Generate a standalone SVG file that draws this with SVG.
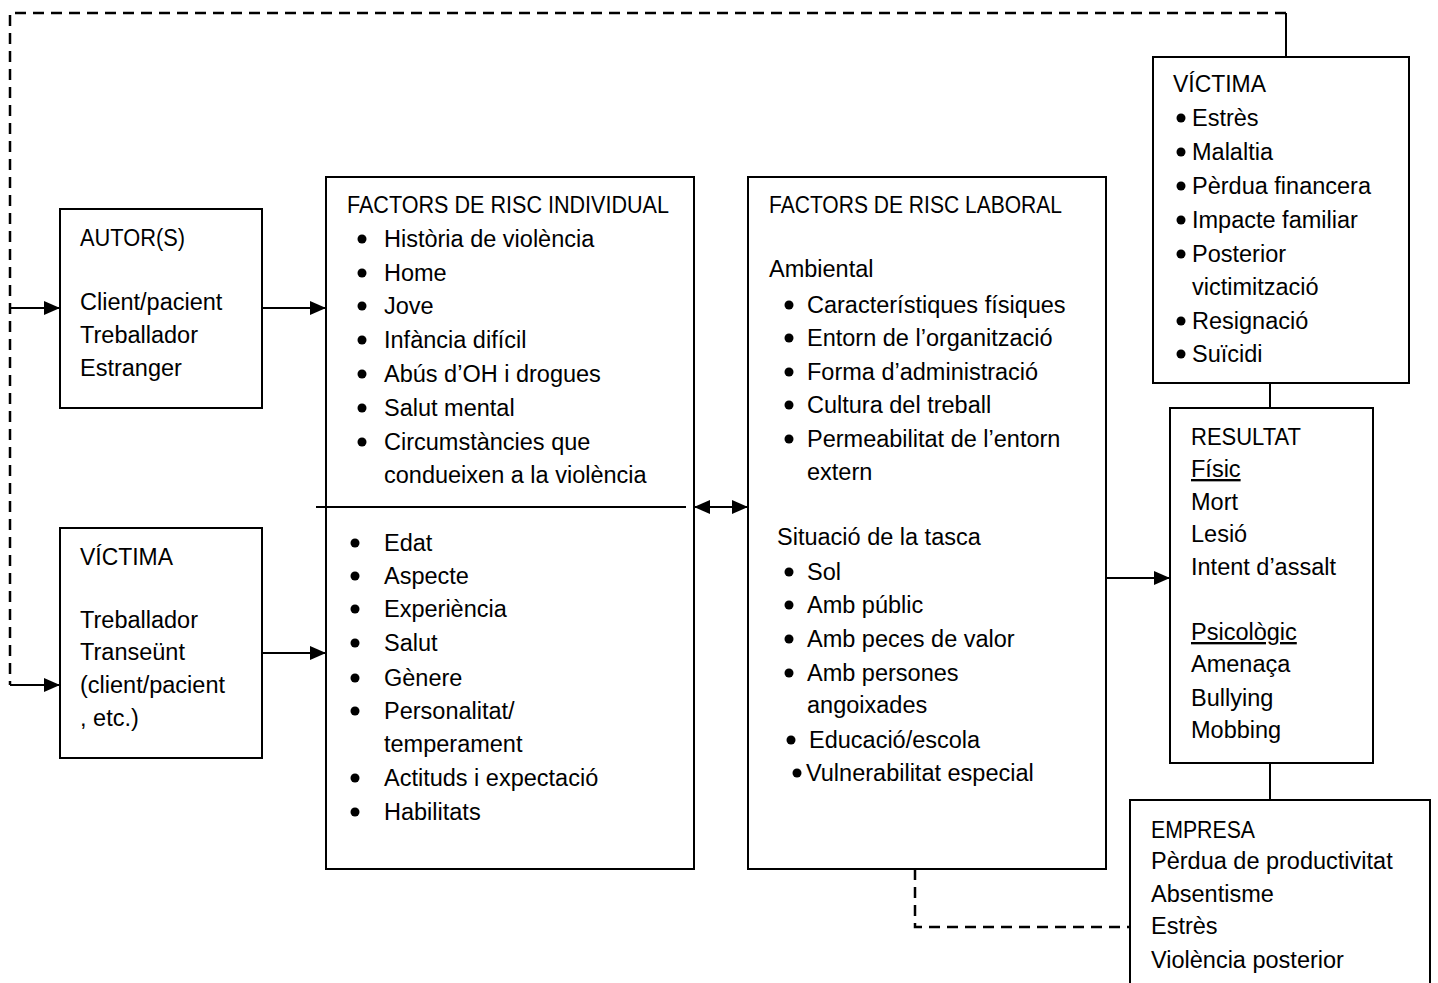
<svg xmlns="http://www.w3.org/2000/svg" width="1438" height="983" viewBox="0 0 1438 983">
<style>
text{font-family:"Liberation Sans",Arial,sans-serif;font-size:23.5px;fill:#000}
.box{fill:#fff;stroke:#000;stroke-width:2}
.ln{fill:none;stroke:#000;stroke-width:2}
.dash{fill:none;stroke:#000;stroke-width:2.5;stroke-dasharray:11,7}
.u{text-decoration:underline}
</style>
<defs>
<marker id="ah" viewBox="0 0 16 14" refX="16" refY="7" markerWidth="16" markerHeight="14" markerUnits="userSpaceOnUse" orient="auto-start-reverse">
<path d="M0,0 L16,7 L0,14 Z" fill="#000"/>
</marker>
<circle id="b" r="4.5" fill="#000"/>
</defs>
<rect width="1438" height="983" fill="#fff"/>
<g id="connectors">
<path class="dash" d="M1286,13 H10 V685"/>
<path class="ln" d="M1286,13 V57"/>
<path class="ln" d="M10,308 H60" marker-end="url(#ah)"/>
<path class="ln" d="M10,685 H60" marker-end="url(#ah)"/>
<path class="ln" d="M262,308 H326" marker-end="url(#ah)"/>
<path class="ln" d="M262,653 H326" marker-end="url(#ah)"/>
<path class="ln" d="M694,507 H748" marker-start="url(#ah)" marker-end="url(#ah)"/>
<path class="ln" d="M1106,578 H1170" marker-end="url(#ah)"/>
<path class="ln" d="M1270,383 V408"/>
<path class="ln" d="M1270,763 V800"/>
<path class="dash" d="M915,869 V927 H1130"/>
</g>
<g id="autor">
<rect class="box" x="60" y="209" width="202" height="199"/>
<text x="80" y="246" textLength="105" lengthAdjust="spacingAndGlyphs">AUTOR(S)</text>
<text x="80" y="310">Client/pacient</text>
<text x="80" y="343">Treballador</text>
<text x="80" y="376">Estranger</text>
</g>
<g id="victima-left">
<rect class="box" x="60" y="528" width="202" height="230"/>
<text x="80" y="565" textLength="93" lengthAdjust="spacingAndGlyphs">VÍCTIMA</text>
<text x="80" y="628">Treballador</text>
<text x="80" y="660">Transeünt</text>
<text x="80" y="693">(client/pacient</text>
<text x="80" y="726">, etc.)</text>
</g>
<g id="individual">
<rect class="box" x="326" y="177" width="368" height="692"/>
<line class="ln" x1="316" y1="507" x2="686" y2="507"/>
<text x="347" y="213" textLength="322" lengthAdjust="spacingAndGlyphs">FACTORS DE RISC INDIVIDUAL</text>
<use href="#b" x="362" y="239"/><text x="384" y="247">Història de violència</text>
<use href="#b" x="362" y="273"/><text x="384" y="281">Home</text>
<use href="#b" x="362" y="306"/><text x="384" y="314">Jove</text>
<use href="#b" x="362" y="340"/><text x="384" y="348">Infància difícil</text>
<use href="#b" x="362" y="374"/><text x="384" y="382">Abús d’OH i drogues</text>
<use href="#b" x="362" y="408"/><text x="384" y="416">Salut mental</text>
<use href="#b" x="362" y="442"/><text x="384" y="450">Circumstàncies que</text>
<text x="384" y="483">condueixen a la violència</text>
<use href="#b" x="355" y="543"/><text x="384" y="551">Edat</text>
<use href="#b" x="355" y="576"/><text x="384" y="584">Aspecte</text>
<use href="#b" x="355" y="609"/><text x="384" y="617">Experiència</text>
<use href="#b" x="355" y="643"/><text x="384" y="651">Salut</text>
<use href="#b" x="355" y="678"/><text x="384" y="686">Gènere</text>
<use href="#b" x="355" y="711"/><text x="384" y="719">Personalitat/</text>
<text x="384" y="752">temperament</text>
<use href="#b" x="355" y="778"/><text x="384" y="786">Actituds i expectació</text>
<use href="#b" x="355" y="812"/><text x="384" y="820">Habilitats</text>
</g>
<g id="laboral">
<rect class="box" x="748" y="177" width="358" height="692"/>
<text x="769" y="213" textLength="293" lengthAdjust="spacingAndGlyphs">FACTORS DE RISC LABORAL</text>
<text x="769" y="277">Ambiental</text>
<use href="#b" x="789" y="305"/><text x="807" y="313">Característiques físiques</text>
<use href="#b" x="789" y="338"/><text x="807" y="346">Entorn de l’organització</text>
<use href="#b" x="789" y="372"/><text x="807" y="380">Forma d’administració</text>
<use href="#b" x="789" y="405"/><text x="807" y="413">Cultura del treball</text>
<use href="#b" x="789" y="439"/><text x="807" y="447">Permeabilitat de l’entorn</text>
<text x="807" y="480">extern</text>
<text x="777" y="545">Situació de la tasca</text>
<use href="#b" x="789" y="572"/><text x="807" y="580">Sol</text>
<use href="#b" x="789" y="605"/><text x="807" y="613">Amb públic</text>
<use href="#b" x="789" y="639"/><text x="807" y="647">Amb peces de valor</text>
<use href="#b" x="789" y="673"/><text x="807" y="681">Amb persones</text>
<text x="807" y="713">angoixades</text>
<use href="#b" x="791" y="740"/><text x="809" y="748">Educació/escola</text>
<use href="#b" x="797" y="773"/><text x="806" y="781">Vulnerabilitat especial</text>
</g>
<g id="victima-right">
<rect class="box" x="1153" y="57" width="256" height="326"/>
<text x="1173" y="92" textLength="93" lengthAdjust="spacingAndGlyphs">VÍCTIMA</text>
<use href="#b" x="1181" y="118"/><text x="1192" y="126">Estrès</text>
<use href="#b" x="1181" y="152"/><text x="1192" y="160">Malaltia</text>
<use href="#b" x="1181" y="186"/><text x="1192" y="194">Pèrdua financera</text>
<use href="#b" x="1181" y="220"/><text x="1192" y="228">Impacte familiar</text>
<use href="#b" x="1181" y="254"/><text x="1192" y="262">Posterior</text>
<text x="1192" y="295">victimització</text>
<use href="#b" x="1181" y="321"/><text x="1192" y="329">Resignació</text>
<use href="#b" x="1181" y="354"/><text x="1192" y="362">Suïcidi</text>
</g>
<g id="resultat">
<rect class="box" x="1170" y="408" width="203" height="355"/>
<text x="1191" y="445" textLength="110" lengthAdjust="spacingAndGlyphs">RESULTAT</text>
<text x="1191" y="477" class="u">Físic</text>
<text x="1191" y="510">Mort</text>
<text x="1191" y="542">Lesió</text>
<text x="1191" y="575">Intent d’assalt</text>
<text x="1191" y="640" class="u">Psicològic</text>
<text x="1191" y="672">Amenaça</text>
<text x="1191" y="706">Bullying</text>
<text x="1191" y="738">Mobbing</text>
</g>
<g id="empresa">
<path class="box" d="M1130,990 V800 H1430 V990"/>
<text x="1151" y="838" textLength="104" lengthAdjust="spacingAndGlyphs">EMPRESA</text>
<text x="1151" y="869" font-size="24">Pèrdua de productivitat</text>
<text x="1151" y="902">Absentisme</text>
<text x="1151" y="934">Estrès</text>
<text x="1151" y="968">Violència posterior</text>
</g>
</svg>
